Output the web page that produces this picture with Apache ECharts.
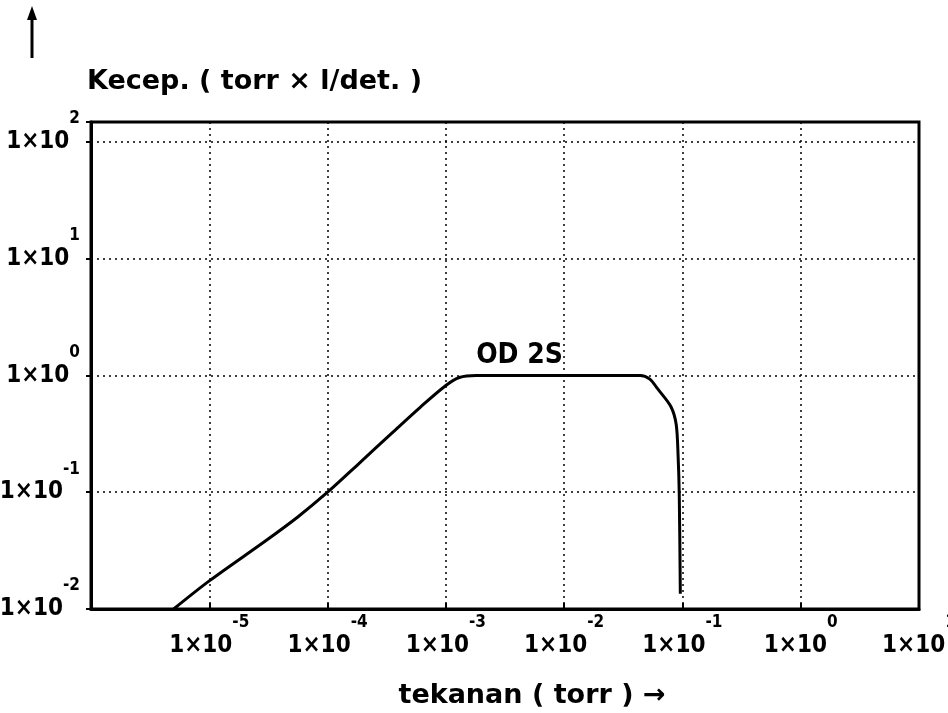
<!DOCTYPE html>
<html>
<head>
<meta charset="utf-8">
<title>OD 2S</title>
<script src="https://cdn.jsdelivr.net/npm/echarts@6/dist/echarts.min.js"></script>
<style>
  html, body { margin: 0; padding: 0; background: #fff; }
  #chart { width: 948px; height: 713px; }
</style>
</head>
<body>
<div id="chart"></div>
<script>
// pressure (torr) vs. pumping speed (torr x l/det.)
const pressure = [5e-6, 1e-5, 3e-5, 5.6e-5, 1e-4, 1.84e-4, 3.44e-4, 6.1e-4, 1e-3, 1.3e-3, 1.8e-3, 1e-2, 0.044, 0.053, 0.0616, 0.08, 0.0886, 0.092, 0.094, 0.096];
const speed = [0.01, 0.0174, 0.0384, 0.0614, 0.1, 0.176, 0.316, 0.536, 0.82, 0.96, 1.0, 1.0, 1.0, 0.93, 0.77, 0.54, 0.38, 0.2, 0.096, 0.0135];

const xTickExponents = [-5, -4, -3, -2, -1, 0, 1];
const yTickExponents = [-2, -1, 0, 1, 2];

const curveName = "OD 2S";
const curveLabelAt = [4.2e-3, 1.0];

const font = "'DejaVu Sans Condensed', 'DejaVu Sans', sans-serif";
const nameFont = "'DejaVu Sans', sans-serif";

function powerLabel(allowed) {
  return (value) => {
    const exp = Math.round(Math.log10(value));
    if (Math.abs(Math.log10(value) - exp) > 1e-6) return "";
    if (!allowed.includes(exp)) return "";
    return "{b|1×10}{e|" + exp + "}";
  };
}

const richLabel = {
  b: { fontSize: 24, fontFamily: font, fontWeight: "bold", color: "#000" },
  e: { fontSize: 17, fontFamily: font, fontWeight: "bold", color: "#000", padding: [0, 0, 46, 0] },
};

const chart = echarts.init(document.getElementById("chart"), null, { renderer: "canvas" });

const option = {
  backgroundColor: "#fff",
  animation: false,
  grid: {
    left: 91,
    right: 29,
    top: 122,
    bottom: 104,
    containLabel: false,
    outerBoundsMode: "none",
    show: true,
    borderColor: "#000",
    borderWidth: 3,
  },
  xAxis: {
    type: "log",
    min: 1e-6,
    max: 1e1,
    logBase: 10,
    name: "tekanan ( torr ) →",
    nameLocation: "middle",
    nameGap: 73,
    nameTextStyle: { fontSize: 27, fontFamily: nameFont, fontWeight: "bold", color: "#000", padding: [0, 0, 0, 54] },
    axisLine: { show: true, lineStyle: { color: "#000", width: 3 } },
    axisTick: { show: true, inside: true, length: 6, lineStyle: { color: "#000", width: 2 } },
    axisLabel: { formatter: powerLabel(xTickExponents), rich: richLabel, margin: 5 },
    splitLine: { show: true, lineStyle: { color: "#000", type: [2, 4], width: 1.5 } },
  },
  yAxis: {
    type: "log",
    min: 1e-2,
    max: 148,
    logBase: 10,
    name: "Kecep. ( torr × l/det. )",
    nameLocation: "end",
    nameGap: 40,
    nameTextStyle: { fontSize: 27, fontFamily: nameFont, fontWeight: "bold", color: "#000", align: "left", verticalAlign: "middle", padding: [0, 0, 0, -4] },
    axisLine: { show: true, lineStyle: { color: "#000", width: 3 } },
    axisTick: { show: true, length: 5, lineStyle: { color: "#000", width: 2 } },
    axisLabel: { formatter: powerLabel(yTickExponents), rich: richLabel, margin: 11 },
    splitLine: { show: true, lineStyle: { color: "#000", type: [2, 4], width: 1.5 } },
  },
  graphic: [
    { type: "line", shape: { x1: 32, y1: 58, x2: 32, y2: 16 }, style: { stroke: "#000", lineWidth: 3 } },
    { type: "polygon", shape: { points: [[32, 6], [27, 20], [37, 20]] }, style: { fill: "#000" } },
  ],
  series: [
    {
      name: curveName,
      type: "line",
      data: pressure.map((p, i) => [p, speed[i]]),
      smooth: 0.3,
      showSymbol: false,
      lineStyle: { color: "#000", width: 3 },
      markPoint: {
        symbol: "circle",
        symbolSize: 0,
        silent: true,
        label: {
          show: true,
          position: "top",
          distance: 6,
          formatter: curveName,
          fontSize: 28,
          fontFamily: font,
          fontWeight: "bold",
          color: "#000",
        },
        data: [{ coord: curveLabelAt }],
      },
    },
  ],
};

chart.setOption(option);
window.addEventListener("resize", chart.resize);
</script>
</body>
</html>
